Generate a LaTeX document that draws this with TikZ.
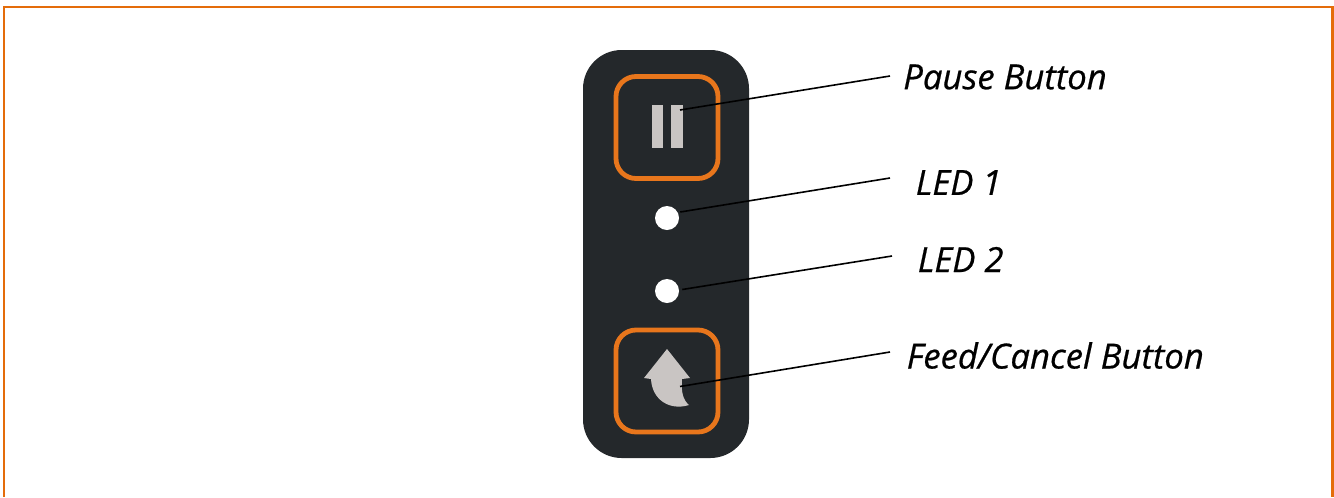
\documentclass[tikz,border=0pt]{standalone}
\usepackage{fontspec}
\setmainfont[ItalicFeatures={FakeBold=0.6}]{Open Sans}
\usetikzlibrary{positioning}
\definecolor{framecol}{RGB}{228,108,10}
\definecolor{btncol}{RGB}{232,118,28}
\definecolor{panelcol}{RGB}{36,40,43}
\definecolor{glyphcol}{RGB}{201,197,195}
\begin{document}
\begin{tikzpicture}[
    x=0.75pt, y=-0.75pt,
    panel/.style={draw=none, fill=panelcol, rounded corners=29pt, minimum width=124.5pt, minimum height=306pt},
    btn/.style={draw=btncol, line width=3.6pt, rounded corners=15pt, minimum width=76.5pt, minimum height=76.5pt},
    led/.style={circle, fill=white, inner sep=0pt, minimum size=18pt},
    lbl/.style={font=\fontsize{26pt}{31pt}\selectfont\itshape, inner sep=0pt, anchor=west},
    lead/.style={line width=1.2pt}
  ]
  \useasboundingbox (0,0) rectangle (1334,497);
  % outer frame
  \draw[framecol, line width=1.6pt] (4,497) -- (4,7) -- (1332.5,7) -- (1332.5,497);

  \node[panel] (panel) at (666,254) {};
  \node[btn] (pausebtn) at (667,127.5) {};
  \node[btn] (feedbtn) at (667,381) {};
  \node[led] (led1) at (667,218) {};
  \node[led] (led2) at (667,291) {};

  % pause bars
  \fill[glyphcol] (652.3,105) rectangle (662.7,147.5);
  \fill[glyphcol] (670.5,105) rectangle (683,147.5);
  \coordinate (pausept) at (680,110);

  % feed arrow
  \fill[glyphcol] (667,349) -- (690,378) -- (682,379) .. controls (681,392) and (683,400) .. (689,405)
    .. controls (670,411) and (652,400) .. (651,379) -- (644,378) -- cycle;
  \coordinate (feedpt) at (680,386.5);

  \node[lbl] (pauselbl) at (903,77) {Pause Button};
  \node[lbl] (led1lbl) at (915.5,182.5) {LED 1};
  \node[lbl] (led2lbl) at (917.5,259.5) {LED 2};
  \node[lbl] (feedlbl) at (906.5,355.5) {Feed/Cancel Button};
  \coordinate (pauseend) at (890,76);
  \coordinate (led1end) at (890,178);
  \coordinate (led2end) at (892,256);
  \coordinate (feedend) at (890,352);

  \draw[lead] (pausept) -- (pauseend);
  \draw[lead] (led1.east) ++(1,-6) -- (led1end);
  \draw[lead] (led2.east) ++(3,-1.5) -- (led2end);
  \draw[lead] (feedpt) -- (feedend);
\end{tikzpicture}
\end{document}
